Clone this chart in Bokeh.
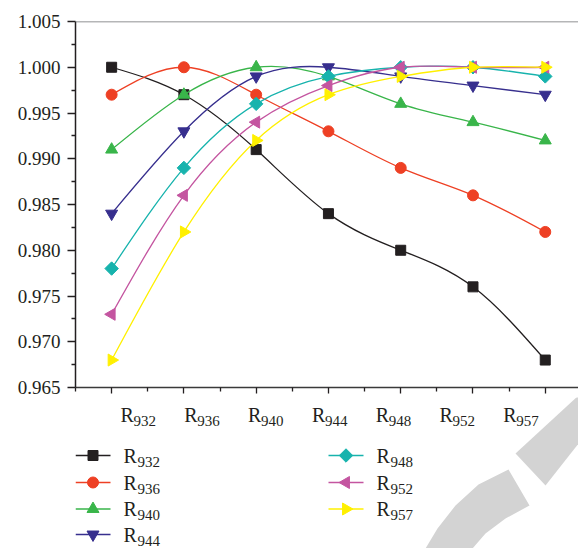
import numpy as np
from bokeh.plotting import figure
from bokeh.layouts import column
from bokeh.models import Range1d, FixedTicker, NumeralTickFormatter, Span, ColumnDataSource
from bokeh.core.properties import value
from bokeh.embed import file_html
from bokeh.resources import INLINE

# ---------------- data ----------------
categories = ["932", "936", "940", "944", "948", "952", "957"]
series_subs = ["932", "936", "940", "944", "948", "952", "957"]

r932 = [1.000, 0.997, 0.991, 0.984, 0.980, 0.976, 0.968]
r936 = [0.997, 1.000, 0.997, 0.993, 0.989, 0.986, 0.982]
r940 = [0.991, 0.997, 1.000, 0.999, 0.996, 0.994, 0.992]
r944 = [0.984, 0.993, 0.999, 1.000, 0.999, 0.998, 0.997]
r948 = [0.978, 0.989, 0.996, 0.999, 1.000, 1.000, 0.999]
r952 = [0.973, 0.986, 0.994, 0.998, 1.000, 1.000, 1.000]
r957 = [0.968, 0.982, 0.992, 0.997, 0.999, 1.000, 1.000]
series = [r932, r936, r940, r944, r948, r952, r957]

colors = ["#231f20", "#ee4024", "#39b54a", "#372f8e", "#17b3ad", "#c455a0", "#fff000"]
markers = ["square", "circle", "triangle", "inverted_triangle", "square", "triangle", "triangle"]
angles = [0, 0, 0, 0, np.pi / 4, np.pi / 2, -np.pi / 2]
msizes = [10, 11, 12, 12, 9.5, 12, 12]

y_ticks = [0.965, 0.970, 0.975, 0.980, 0.985, 0.990, 0.995, 1.000, 1.005]

FONT = value("Liberation Serif")
TXT = "#231f20"
W, H1, H2 = 578, 397, 151
LEFT = 75


def spline_segments(y):
    """Natural cubic spline through the points, expressed as Bezier segments."""
    y = np.asarray(y, dtype=float)
    n = len(y)
    A = np.zeros((n, n))
    b = np.zeros(n)
    A[0, 0], A[0, 1], b[0] = 2, 1, 3 * (y[1] - y[0])
    A[-1, -2], A[-1, -1], b[-1] = 1, 2, 3 * (y[-1] - y[-2])
    for i in range(1, n - 1):
        A[i, i - 1], A[i, i], A[i, i + 1] = 1, 4, 1
        b[i] = 3 * (y[i + 1] - y[i - 1])
    m = np.linalg.solve(A, b)
    x = np.arange(n, dtype=float)
    return dict(x0=x[:-1], y0=y[:-1], x1=x[1:], y1=y[1:],
                cx0=x[:-1] + 1 / 3, cy0=y[:-1] + m[:-1] / 3,
                cx1=x[1:] - 1 / 3, cy1=y[1:] - m[1:] / 3)


# ---------------- main chart ----------------
p = figure(width=W, height=H1, x_range=Range1d(-0.5, 6.46), y_range=Range1d(0.965, 1.005),
           output_backend="svg", toolbar_location=None,
           min_border_left=LEFT, min_border_right=0, min_border_top=21, min_border_bottom=H1 - 387)
p.grid.visible = False
p.outline_line_color = None
p.background_fill_color = "white"
p.border_fill_color = "white"

xs = list(range(len(categories)))
for ys, c, mk, ang, ms in zip(series, colors, markers, angles, msizes):
    src = ColumnDataSource(spline_segments(ys))
    p.bezier(x0="x0", y0="y0", x1="x1", y1="y1", cx0="cx0", cy0="cy0", cx1="cx1", cy1="cy1",
             source=src, line_color=c, line_width=1.3)
    p.scatter(xs, ys, marker=mk, size=ms, angle=ang, fill_color=c, line_color=c)

p.add_layout(Span(location=1.005, dimension="width", line_color="#6d6e70", line_width=1.5))

ya = p.yaxis[0]
ya.ticker = FixedTicker(ticks=y_ticks, minor_ticks=[v + 0.0025 for v in y_ticks[:-1]])
ya.formatter = NumeralTickFormatter(format="0.000")
ya.axis_line_color = "#231f20"
ya.axis_line_width = 1.5
ya.major_tick_line_color = "#231f20"
ya.minor_tick_line_color = "#231f20"
ya.major_tick_line_width = 1.3
ya.minor_tick_line_width = 1.3
ya.major_tick_out = 8
ya.major_tick_in = 0
ya.minor_tick_out = 4
ya.minor_tick_in = 0
ya.major_label_standoff = 7
ya.major_label_text_font = "Liberation Serif"
ya.major_label_text_font_size = "19px"
ya.major_label_text_color = TXT

xa = p.xaxis[0]
xa.ticker = FixedTicker(ticks=xs, minor_ticks=[v - 0.5 for v in xs] + [6.5])
xa.axis_line_color = "#3a3a3a"
xa.axis_line_width = 1.5
xa.major_tick_line_color = "#231f20"
xa.minor_tick_line_color = "#231f20"
xa.major_tick_line_width = 1.3
xa.minor_tick_line_width = 1.3
xa.major_tick_out = 6
xa.major_tick_in = 0
xa.minor_tick_out = 4
xa.minor_tick_in = 0
xa.major_label_overrides = {i: "" for i in xs}
xa.major_label_text_font_size = "1px"
xa.major_label_standoff = 0

# ---------------- lower panel: category labels + legend (pixel coordinates) ----------------
leg = figure(width=W, height=H2, x_range=Range1d(LEFT, W), y_range=Range1d(H1 + H2, H1),
             x_axis_type=None, y_axis_type=None, output_backend="svg", toolbar_location=None,
             min_border_left=LEFT, min_border_right=0, min_border_top=0, min_border_bottom=0)
leg.grid.visible = False
leg.outline_line_color = None
leg.background_fill_color = "white"
leg.border_fill_color = "white"

# decorative grey watermark arcs
leg.patch([578, 515, 545, 578], [395, 453, 485, 443], fill_color="#d3d3d3", line_color=None)
leg.patch([508, 478, 455, 437, 425, 472, 485, 505, 529], [469, 484, 505, 528, 548, 548, 533, 518, 505],
          fill_color="#d3d3d3", line_color=None)

# category labels (R with subscript), vertical centres
lab_x0, lab_dx = 120, 63.8
r_x = [lab_x0 + lab_dx * i for i in range(len(categories))]
leg.text(x=r_x, y=[414] * len(categories), text=["R"] * len(categories),
         text_font=FONT, text_font_size="20px", text_color=TXT,
         text_align="left", text_baseline="middle")
leg.text(x=[v + 13 for v in r_x], y=[420] * len(categories), text=categories,
         text_font=FONT, text_font_size="15px", text_color=TXT,
         text_align="left", text_baseline="middle")

# legend
col_line_x = [75, 328]
row_y = [455, 482, 508.5, 534]
for i, (sub, c, mk, ang, ms) in enumerate(zip(series_subs, colors, markers, angles, msizes)):
    cx = col_line_x[i // 4]
    ry = row_y[i % 4]
    leg.line([cx, cx + 35], [ry, ry], line_color=c, line_width=1.3)
    leg.scatter([cx + 17.5], [ry], marker=mk, size=ms, angle=ang, fill_color=c, line_color=c)
    leg.text(x=[cx + 48], y=[ry], text=["R"], text_font=FONT, text_font_size="20px",
             text_color=TXT, text_align="left", text_baseline="middle")
    leg.text(x=[cx + 62], y=[ry + 6], text=[sub], text_font=FONT, text_font_size="15px",
             text_color=TXT, text_align="left", text_baseline="middle")

layout = column(p, leg, spacing=0)
open("out.html", "w").write(file_html(layout, INLINE))
